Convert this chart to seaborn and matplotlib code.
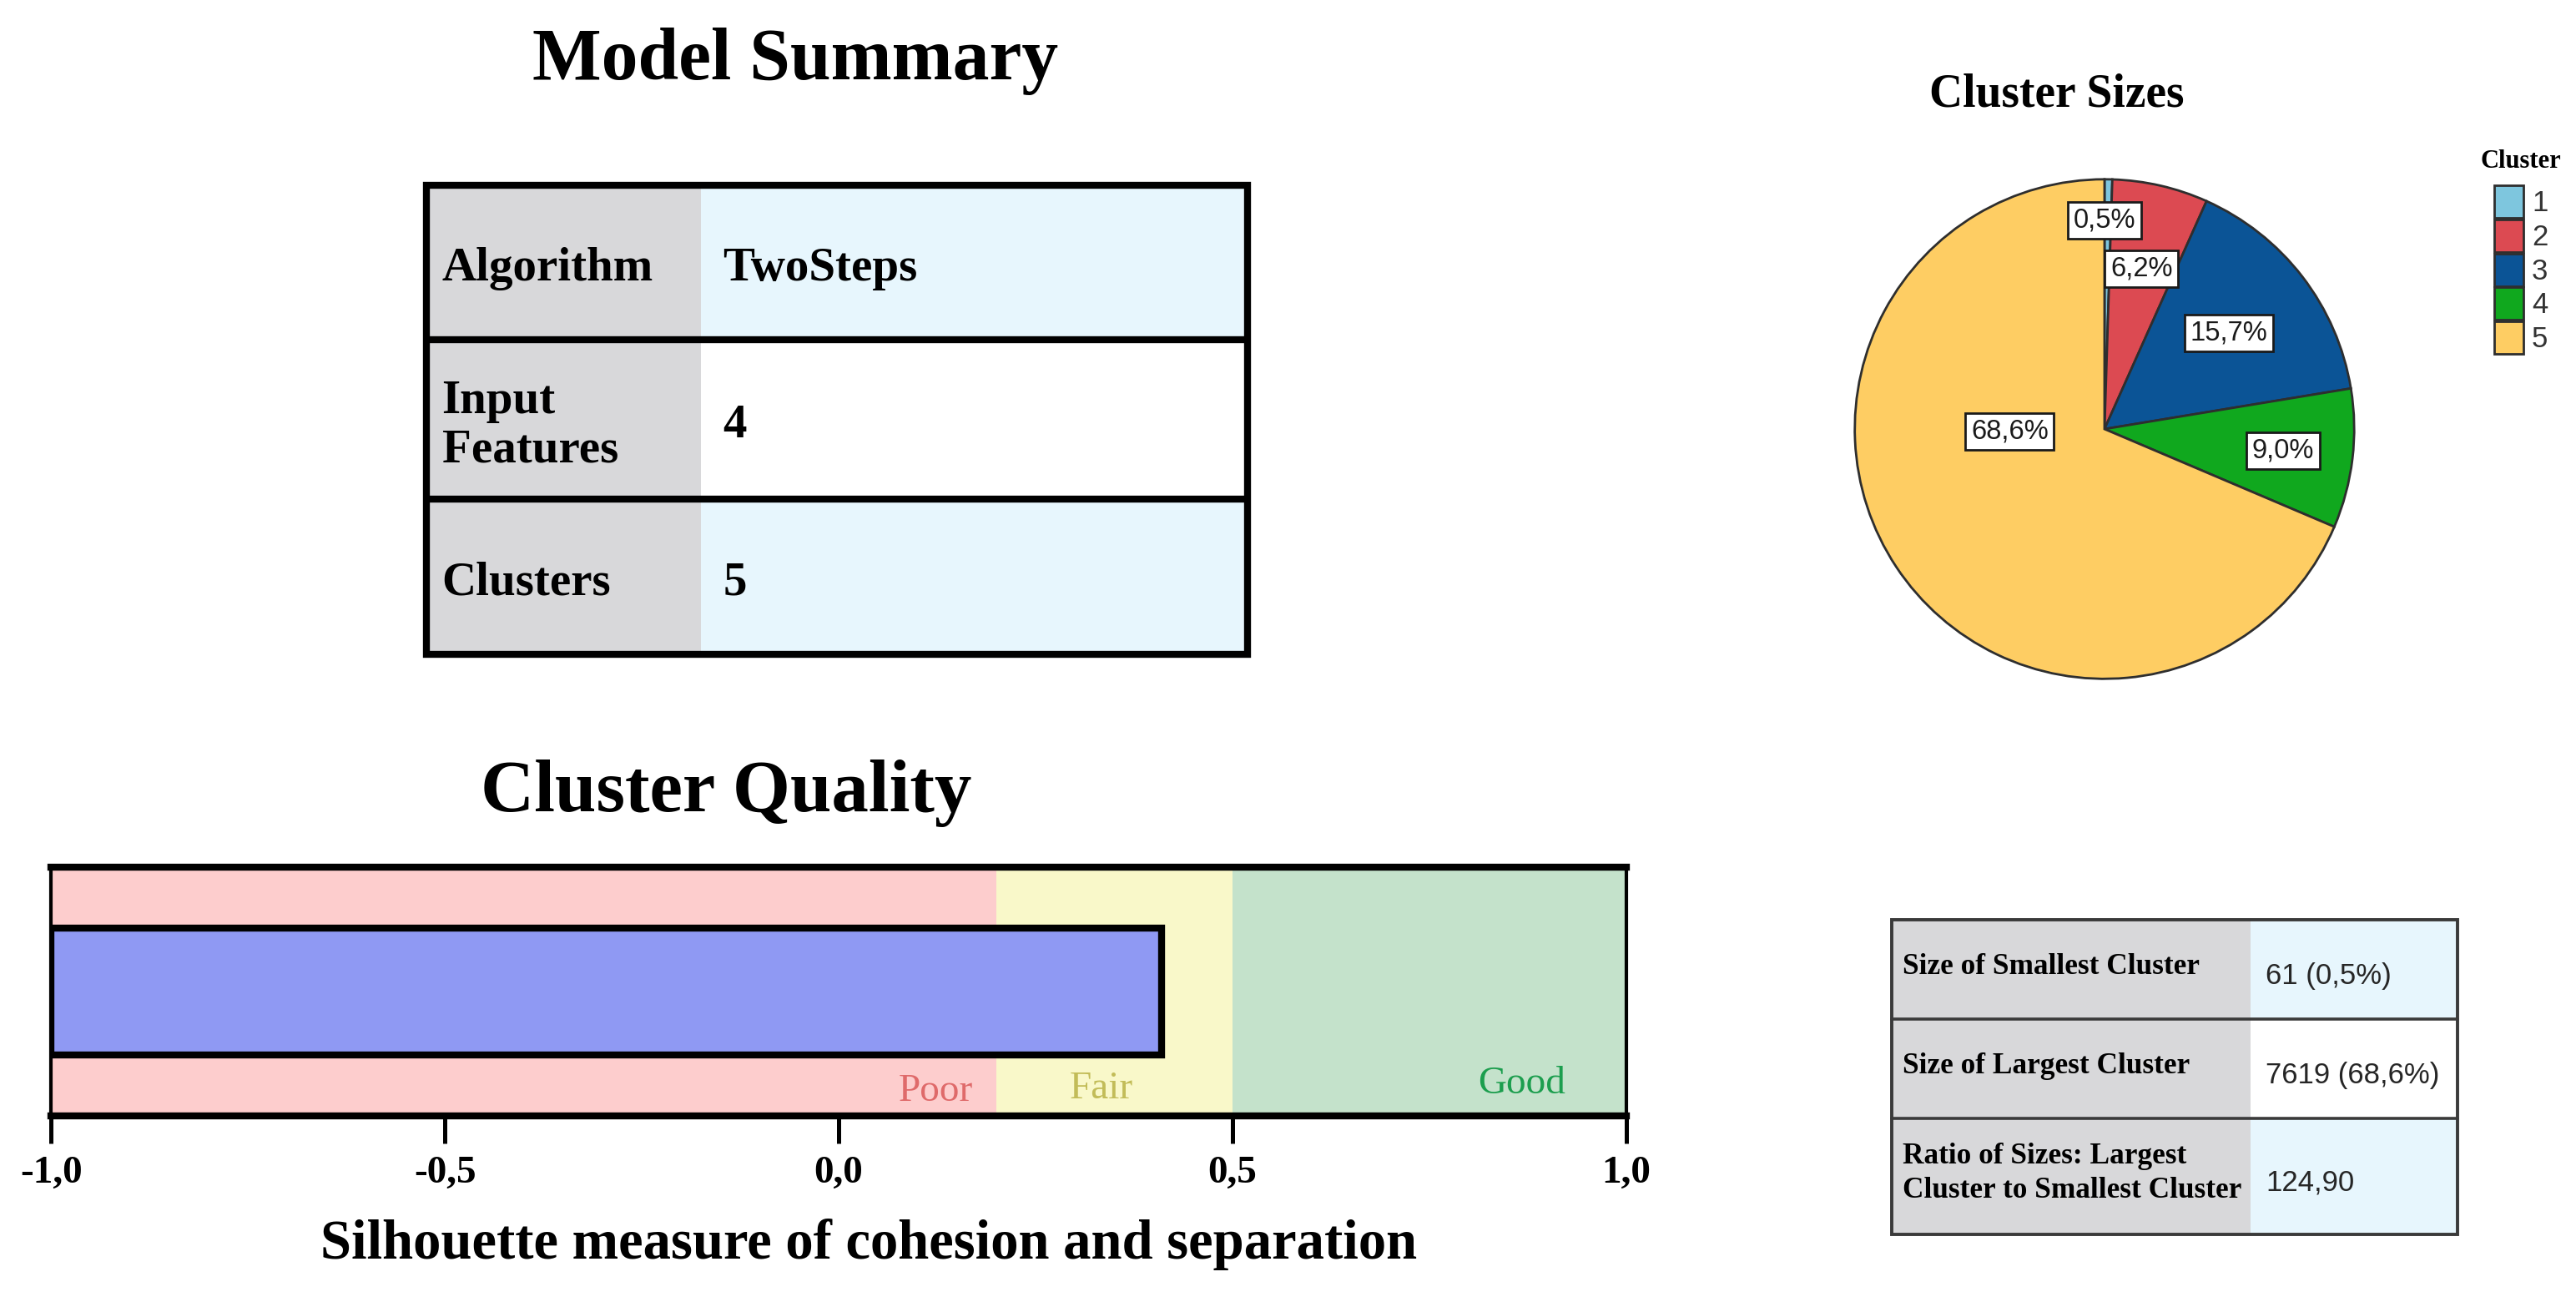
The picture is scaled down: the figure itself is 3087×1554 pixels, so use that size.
import numpy as np
import pandas as pd
import matplotlib
matplotlib.use("Agg")
import matplotlib.pyplot as plt
from matplotlib.patches import Rectangle
import seaborn as sns

# ---------------- data ----------------
summary_labels = ["Algorithm", "Input\nFeatures", "Clusters"]
summary_values = ["TwoSteps", "4", "5"]

silhouette = 0.41
zone_names = ["Poor", "Fair", "Good"]
zone_edges = [-1.0, 0.2, 0.5, 1.0]
xticks = [-1.0, -0.5, 0.0, 0.5, 1.0]
xtick_labels = ["-1,0", "-0,5", "0,0", "0,5", "1,0"]

cluster_ids = ["1", "2", "3", "4", "5"]
cluster_pct = [0.5, 6.2, 15.7, 9.0, 68.6]

size_labels = ["Size of Smallest Cluster", "Size of Largest Cluster",
               "Ratio of Sizes: Largest\nCluster to Smallest Cluster"]
size_values = ["61 (0,5%)", "7619 (68,6%)", "124,90"]

# ---------------- style ----------------
zone_colors = ["#fdcdcd", "#f9f8c9", "#c4e2cb"]
zone_text_colors = ["#df6a6a", "#c2bc58", "#1c9e4e"]
bar_color = "#8f99f3"
cluster_colors = ["#7ec6de", "#dc4a52", "#0b5496", "#10a81e", "#fecd63"]
gray = "#d8d8da"
lblue = "#e7f6fd"

sns.set_theme(style="white")
SERIF = ["Liberation Serif", "DejaVu Serif"]
SANS = ["Liberation Sans", "DejaVu Sans"]
plt.rcParams["font.family"] = SERIF
plt.rcParams["text.color"] = "black"
plt.rcParams["axes.labelcolor"] = "black"
plt.rcParams["xtick.color"] = "black"

W, H = 1568.0, 789.0  # layout units (reference preview pixels)

fig = plt.figure(figsize=(15.435, 7.77), dpi=200)
fig.patch.set_facecolor("white")

ov = fig.add_axes([0, 0, 1, 1])
ov.set_xlim(0, W)
ov.set_ylim(H, 0)
ov.axis("off")
ov.patch.set_visible(False)

# ---------------- titles ----------------
ov.text(484, 48.3, "Model Summary", ha="center", va="baseline",
        fontsize=31.5, fontweight="bold", family=SERIF)
ov.text(442, 493.5, "Cluster Quality", ha="center", va="baseline",
        fontsize=32, fontweight="bold", family=SERIF)
ov.text(1252, 64.8, "Cluster Sizes", ha="center", va="baseline",
        fontsize=20, fontweight="bold", family=SERIF)

# ---------------- model summary table ----------------
ms_x = [259.5, 426.6, 759.2]
ms_y = [112.6, 206.5, 303.4, 398.2]
ms_val_bg = [lblue, "white", lblue]
for i in range(3):
    y0, y1 = ms_y[i], ms_y[i + 1]
    ov.add_patch(Rectangle((ms_x[0], y0), ms_x[1] - ms_x[0], y1 - y0,
                           fc=gray, ec="none", zorder=1))
    ov.add_patch(Rectangle((ms_x[1], y0), ms_x[2] - ms_x[1], y1 - y0,
                           fc=ms_val_bg[i], ec="none", zorder=1))
    yc = (y0 + y1) / 2 + 4
    ov.text(269, yc, summary_labels[i], ha="left", va="center", fontsize=20.5,
            fontweight="bold", family=SERIF, linespacing=1.15, zorder=3)
    ov.text(440, yc, summary_values[i], ha="left", va="center", fontsize=20.5,
            fontweight="bold", family=SERIF, zorder=3)
for y in ms_y[1:-1]:
    ov.plot([ms_x[0], ms_x[2]], [y, y], color="black", lw=3, zorder=2,
            solid_capstyle="butt")
ov.add_patch(Rectangle((ms_x[0], ms_y[0]), ms_x[2] - ms_x[0], ms_y[-1] - ms_y[0],
                       fc="none", ec="black", lw=3, zorder=2))

# ---------------- cluster size table ----------------
bt_x = [1151.3, 1369.7, 1495.7]
bt_y = [559.6, 619.9, 680.2, 750.7]
bt_val_bg = [lblue, "white", lblue]
for i in range(3):
    y0, y1 = bt_y[i], bt_y[i + 1]
    ov.add_patch(Rectangle((bt_x[0], y0), bt_x[1] - bt_x[0], y1 - y0,
                           fc=gray, ec="none", zorder=1))
    ov.add_patch(Rectangle((bt_x[1], y0), bt_x[2] - bt_x[1], y1 - y0,
                           fc=bt_val_bg[i], ec="none", zorder=1))
    yc = (y0 + y1) / 2
    ov.text(1158, yc - 1.5, size_labels[i], ha="left", va="center", fontsize=12.7,
            fontweight="bold", family=SERIF, linespacing=1.3, zorder=3)
    ov.text(1379, yc + 4, size_values[i], ha="left", va="center", fontsize=12.5,
            family=SANS, color="#262626", zorder=3)
for y in bt_y[1:-1]:
    ov.plot([bt_x[0], bt_x[2]], [y, y], color="#3a3a3a", lw=1.3, zorder=2)
ov.add_patch(Rectangle((bt_x[0], bt_y[0]), bt_x[2] - bt_x[0], bt_y[-1] - bt_y[0],
                       fc="none", ec="#3a3a3a", lw=1.4, zorder=2))

# ---------------- cluster quality bar ----------------
ax = fig.add_axes([31.2 / W, 1 - 679 / H, (989.8 - 31.2) / W, (679 - 527.5) / H])
ax.set_xlim(-1, 1)
ax.set_ylim(-1, 1)
for i in range(3):
    ax.axvspan(zone_edges[i], zone_edges[i + 1], color=zone_colors[i], lw=0, zorder=0)
ax.barh([0], [silhouette - zone_edges[0]], left=zone_edges[0], height=1.02,
        color=bar_color, edgecolor="black", linewidth=3, zorder=2)
label_x = [0.171, 0.333, 0.867]
label_y = [-0.88, -0.855, -0.815]
label_ha = ["right", "center", "center"]
for i in range(3):
    ax.text(label_x[i], label_y[i], zone_names[i], ha=label_ha[i], va="baseline",
            fontsize=17, color=zone_text_colors[i], family=SERIF, zorder=3)
ax.set_yticks([])
ax.set_xticks(xticks, xtick_labels)
ax.tick_params(axis="x", bottom=True, direction="out", length=11.7, width=1.8,
               pad=5.5, labelsize=17, color="black", labelcolor="black")
for lab in ax.get_xticklabels():
    lab.set_fontweight("bold")
    lab.set_family(SERIF)
ax.set_xlabel("Silhouette measure of cohesion and separation", fontsize=24,
              fontweight="bold", family=SERIF, color="black")
ax.xaxis.set_label_coords((529 - 31.2) / (989.8 - 31.2), -(757 - 679) / (679 - 527.5))
ax.xaxis.label.set_va("center")
for s in ["top", "bottom"]:
    ax.spines[s].set_linewidth(3)
    ax.spines[s].set_color("black")
    ax.spines[s].set_zorder(4)
for s in ["left", "right"]:
    ax.spines[s].set_linewidth(1.5)
    ax.spines[s].set_color("black")
    ax.spines[s].set_zorder(4)

# ---------------- pie ----------------
cx, cy, r = 1281.0, 261.0, 152.0
pax = fig.add_axes([(cx - r) / W, 1 - (cy + r) / H, 2 * r / W, 2 * r / H])
wedges, texts, autotexts = pax.pie(
    cluster_pct, colors=cluster_colors, startangle=90, counterclock=False,
    autopct=lambda p: f"{p:.1f}%".replace(".", ","), pctdistance=0.66,
    wedgeprops=dict(edgecolor="#2e2e2e", linewidth=1.0),
    textprops=dict(family=SANS, fontsize=11.8, color="#1a1a1a"))
pax.set_xlim(-1, 1)
pax.set_ylim(-1, 1)
pax.set_aspect("equal")
for w in wedges:
    w.set_clip_on(False)
# label radius per slice along the slice middle, SPSS-style overrides for 1 and 5
label_r = [0.835, 0.66, 0.63, 0.72, 0.38]
start = 90.0
for i, (t, p) in enumerate(zip(autotexts, cluster_pct)):
    mid = np.deg2rad(start - p * 3.6 / 2)
    start -= p * 3.6
    t.set_position((label_r[i] * np.cos(mid), label_r[i] * np.sin(mid)))
    t.set_bbox(dict(boxstyle="square,pad=0.2", fc="white", ec="#1a1a1a", lw=1.0))
autotexts[0].set_position((0.0, 0.835))
autotexts[4].set_position((-0.38, -0.01))

leg = fig.legend(wedges, cluster_ids, title="Cluster", loc="upper left",
                 bbox_to_anchor=(1510 / W, 1 - 91 / H), frameon=False,
                 borderpad=0, borderaxespad=0, handlelength=1.0, handleheight=1.35,
                 handletextpad=0.3, labelspacing=0.05, alignment="center",
                 prop=dict(family=SANS, size=12.5),
                 title_fontproperties=dict(family=SERIF, weight="bold", size=11))
leg._legend_box.sep = 5
for t in leg.get_texts():
    t.set_color("#333333")

fig.savefig("out.png", dpi=200, facecolor="white")
